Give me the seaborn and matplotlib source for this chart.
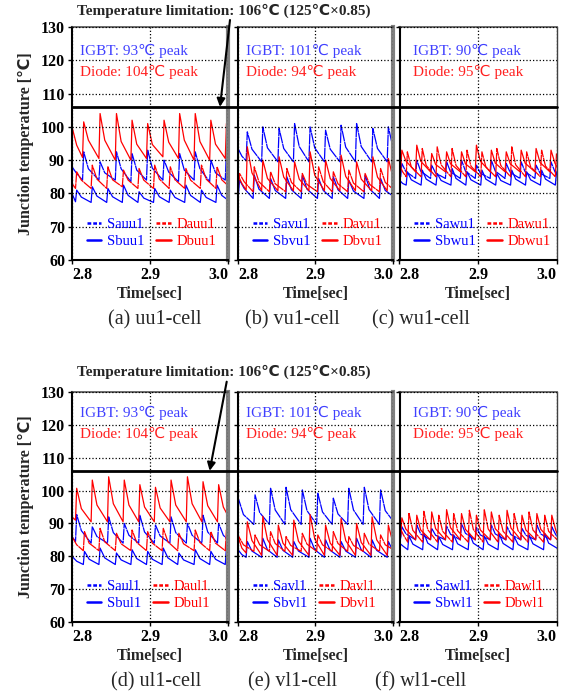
import matplotlib
matplotlib.use("Agg")
import matplotlib.pyplot as plt
import matplotlib.transforms as mtransforms
from matplotlib.lines import Line2D
import seaborn as sns

# ---- values (vertex times in sec, temperatures in degC) ----
# (a) uu1-cell
a_ta = [2.800, 2.806,
        2.8135, 2.815, 2.821, 2.8345, 2.836, 2.842, 2.8555, 2.857, 2.863,
        2.8755, 2.877, 2.883, 2.8955, 2.897, 2.903, 2.9165, 2.918, 2.924,
        2.9365, 2.938, 2.944, 2.9565, 2.958, 2.964, 2.9765, 2.978, 2.984,
        2.9965, 2.998, 3.004]
a_db = [100.0, 94.5,
        90.8, 101.5, 96.0, 90.5, 104.0, 96.0, 90.0, 104.0, 95.6,
        90.0, 102.0, 94.8, 90.5, 101.0, 94.7, 91.0, 102.0, 95.4,
        90.5, 104.0, 96.0, 90.0, 104.0, 95.6, 90.0, 102.0, 94.8,
        90.5, 101.0, 94.7]
a_sa = [88.0, 86.0,
        84.0, 92.5, 87.4, 84.0, 89.5, 86.2, 84.0, 92.5, 87.4,
        83.5, 92.0, 87.0, 84.0, 93.0, 87.6, 84.0, 90.0, 86.4,
        83.5, 92.0, 87.0, 84.0, 92.5, 87.4, 83.5, 90.0, 86.2,
        84.0, 93.0, 87.6]
a_tb = [2.800,
        2.8045, 2.806, 2.812, 2.8245, 2.826, 2.832, 2.8445, 2.846, 2.852,
        2.8645, 2.866, 2.872, 2.8845, 2.886, 2.892, 2.9045, 2.906, 2.912,
        2.9245, 2.926, 2.932, 2.9445, 2.946, 2.952, 2.9645, 2.966, 2.972,
        2.9845, 2.986, 2.992,
        3.004]
a_da = [83.0,
        81.5, 86.5, 84.0, 81.5, 88.5, 84.3, 81.5, 88.0, 84.1,
        82.0, 87.0, 84.0, 81.5, 87.5, 84.0, 81.5, 88.5, 84.3,
        81.5, 88.0, 84.1, 81.5, 87.5, 84.0, 81.5, 88.5, 84.3,
        81.5, 88.0, 84.1,
        81.5]
a_sb = [80.0,
        77.5, 81.0, 78.9, 77.3, 82.0, 79.2, 77.3, 81.5, 79.0,
        77.3, 82.5, 79.4, 77.3, 80.5, 78.6, 77.3, 81.5, 79.0,
        77.3, 81.0, 78.8, 77.3, 82.5, 79.4, 77.3, 81.0, 78.8,
        77.3, 82.5, 79.4,
        77.3]

# (b) vu1-cell
b_ta = [2.800, 2.805,
        2.8105, 2.812, 2.818, 2.8305, 2.832, 2.838, 2.8515, 2.853, 2.859,
        2.8715, 2.873, 2.879, 2.8915, 2.893, 2.899, 2.9115, 2.913, 2.919,
        2.9315, 2.933, 2.939, 2.9515, 2.953, 2.959, 2.9725, 2.974, 2.980,
        2.9925, 2.994, 3.000,
        3.004]
b_sa = [93.5, 91.2,
        89.8, 98.5, 93.3, 89.5, 100.0, 93.7, 89.5, 99.5, 93.5,
        89.5, 101.0, 94.1, 89.5, 100.0, 93.7, 89.5, 99.0, 93.3,
        89.5, 100.5, 93.9, 89.5, 101.0, 94.1, 89.5, 99.5, 93.5,
        89.5, 100.0, 93.7,
        91.0]
b_db = [85.5, 83.0,
        81.0, 94.0, 86.2, 80.8, 90.0, 84.5, 80.8, 91.0, 84.9,
        80.8, 89.5, 84.3, 80.8, 92.5, 85.5, 80.8, 90.0, 84.5,
        80.8, 91.5, 85.1, 80.8, 89.5, 84.3, 80.8, 91.0, 84.9,
        80.8, 90.5, 84.7,
        82.0]
b_tb = [2.800,
        2.8005, 2.802, 2.808, 2.8195, 2.821, 2.827, 2.8405, 2.842, 2.848,
        2.8615, 2.863, 2.869, 2.8815, 2.883, 2.889, 2.9025, 2.904, 2.910,
        2.9215, 2.923, 2.929, 2.9415, 2.943, 2.949, 2.9625, 2.964, 2.970,
        2.9825, 2.984, 2.990,
        3.004]
b_sb = [80.0,
        79.5, 84.0, 81.5, 78.5, 85.5, 81.3, 78.5, 84.5, 80.9,
        78.5, 85.0, 81.1, 78.5, 85.5, 81.3, 78.5, 84.5, 80.9,
        78.5, 85.0, 81.1, 78.5, 84.0, 80.7, 78.5, 85.5, 81.3,
        78.5, 84.5, 80.9,
        78.5]
b_da = [84.0,
        82.0, 86.0, 83.5, 80.5, 88.0, 83.5, 80.5, 86.5, 82.9,
        80.5, 87.5, 83.3, 80.5, 86.0, 82.7, 80.5, 88.0, 83.5,
        80.5, 86.5, 82.9, 80.5, 87.0, 83.1, 80.5, 86.0, 82.7,
        80.5, 87.5, 83.3,
        80.5]

# (c) wu1-cell
c_ta = [2.800,
        2.8015, 2.803, 2.808, 2.8205, 2.822, 2.827, 2.8395, 2.841, 2.846,
        2.8585, 2.860, 2.865, 2.8775, 2.879, 2.884, 2.8965, 2.898, 2.903,
        2.9155, 2.917, 2.922, 2.9345, 2.936, 2.941, 2.9535, 2.955, 2.960,
        2.9725, 2.974, 2.979, 2.9915, 2.993, 2.998,
        3.004]
c_db = [88.0,
        87.0, 93.0, 89.8, 86.5, 94.5, 89.7, 86.5, 92.0, 88.7,
        86.5, 92.5, 88.9, 86.5, 92.5, 88.9, 86.5, 94.5, 89.7,
        86.5, 93.0, 89.1, 86.5, 92.5, 88.9, 86.5, 93.0, 89.1,
        86.5, 93.5, 89.3, 86.5, 93.0, 89.1,
        86.5]
c_sa = [86.0,
        85.0, 89.0, 86.6, 84.5, 90.0, 86.7, 84.5, 88.5, 86.1,
        84.5, 89.5, 86.5, 84.5, 90.0, 86.7, 84.5, 88.5, 86.1,
        84.5, 90.0, 86.7, 84.5, 89.0, 86.3, 84.5, 89.5, 86.5,
        84.5, 88.5, 86.1, 84.5, 89.5, 86.5,
        84.5]
c_tb = [2.800, 2.804,
        2.8085, 2.810, 2.815, 2.8275, 2.829, 2.834, 2.8465, 2.848, 2.853,
        2.8655, 2.867, 2.872, 2.8845, 2.886, 2.891, 2.9035, 2.905, 2.910,
        2.9225, 2.924, 2.929, 2.9415, 2.943, 2.948, 2.9605, 2.962, 2.967,
        2.9795, 2.981, 2.986,
        2.9985, 3.000]
c_da = [88.5, 86.5,
        85.0, 92.5, 88.0, 85.0, 93.5, 88.4, 85.0, 94.0, 88.6,
        85.0, 93.5, 88.4, 85.0, 93.0, 88.2, 85.0, 92.5, 88.0,
        85.0, 93.5, 88.4, 85.0, 94.0, 88.6, 85.0, 92.5, 88.0,
        85.0, 93.0, 88.2,
        85.0, 92.0]
c_sb = [84.0, 83.0,
        82.5, 86.5, 84.1, 82.5, 87.0, 84.3, 82.5, 86.0, 83.9,
        82.5, 87.5, 84.5, 82.5, 86.5, 84.1, 82.5, 87.0, 84.3,
        82.5, 86.0, 83.9, 82.5, 87.0, 84.3, 82.5, 86.5, 84.1,
        82.5, 87.0, 84.3,
        82.5, 86.5]

# (d) ul1-cell
d_ta = [2.800,
        2.8045, 2.806, 2.812, 2.8245, 2.826, 2.832, 2.8455, 2.847, 2.853,
        2.8655, 2.867, 2.873, 2.8855, 2.887, 2.893, 2.9055, 2.907, 2.913,
        2.9255, 2.927, 2.933, 2.9465, 2.948, 2.954, 2.9665, 2.968, 2.974,
        2.9865, 2.988, 2.994,
        3.004]
d_db = [92.0,
        91.0, 100.7, 94.5, 90.5, 103.2, 95.6, 90.5, 104.2, 96.0,
        90.5, 103.2, 95.6, 90.5, 101.8, 95.0, 90.5, 101.0, 94.7,
        90.5, 103.2, 95.6, 90.5, 104.2, 96.0, 90.5, 102.7, 95.4,
        90.5, 101.8, 95.0,
        90.5]
d_sa = [86.0,
        84.5, 92.7, 87.8, 84.0, 89.0, 86.0, 84.0, 92.0, 87.2,
        84.0, 90.0, 86.4, 84.0, 92.5, 87.4, 84.0, 89.5, 86.2,
        84.0, 92.0, 87.2, 84.0, 90.0, 86.4, 84.0, 92.5, 87.4,
        84.0, 90.0, 86.4,
        84.0]
d_tb = [2.800, 2.806,
        2.8145, 2.816, 2.822, 2.8345, 2.836, 2.842, 2.8555, 2.857, 2.863,
        2.8755, 2.877, 2.883, 2.8955, 2.897, 2.903, 2.9155, 2.917, 2.923,
        2.9355, 2.937, 2.943, 2.9565, 2.958, 2.964, 2.9765, 2.978, 2.984,
        2.9965, 2.998, 3.004]
d_da = [86.0, 83.5,
        81.7, 87.5, 84.0, 81.7, 88.5, 84.4, 81.7, 87.0, 83.8,
        81.7, 88.0, 84.2, 81.7, 87.5, 84.0, 81.7, 88.5, 84.4,
        81.7, 87.0, 83.8, 81.7, 88.0, 84.2, 81.7, 87.5, 84.0,
        81.7, 88.0, 84.2]
d_sb = [80.0, 78.5,
        77.5, 81.5, 79.1, 77.5, 82.5, 79.5, 77.5, 81.0, 78.9,
        77.5, 82.0, 79.3, 77.5, 81.5, 79.1, 77.5, 82.5, 79.5,
        77.5, 81.0, 78.9, 77.5, 82.0, 79.3, 77.5, 81.5, 79.1,
        77.5, 82.5, 79.5]

# (e) vl1-cell
e_ta = [2.800, 2.801, 2.807,
        2.8205, 2.822, 2.828, 2.8405, 2.842, 2.848, 2.8605, 2.862, 2.868,
        2.8815, 2.883, 2.889, 2.9015, 2.903, 2.909, 2.9215, 2.923, 2.929,
        2.9415, 2.943, 2.949, 2.9615, 2.963, 2.969, 2.9825, 2.984, 2.990,
        3.004]
e_sa = [96.0, 97.2, 92.7,
        89.7, 98.7, 93.3, 89.7, 100.7, 94.1, 89.7, 101.0, 94.2,
        89.7, 100.2, 93.9, 89.7, 99.2, 93.5, 89.7, 97.7, 92.9,
        89.7, 100.7, 94.1, 89.7, 101.0, 94.2, 89.7, 100.2, 93.9,
        89.5]
e_da = [84.0, 86.0, 83.5,
        81.5, 86.5, 83.5, 81.5, 87.5, 83.9, 81.5, 86.0, 83.3,
        81.5, 87.0, 83.7, 81.5, 86.5, 83.5, 81.5, 87.5, 83.9,
        81.5, 86.0, 83.3, 81.5, 87.0, 83.7, 81.5, 86.5, 83.5,
        81.5]
e_tb = [2.800, 2.805,
        2.8105, 2.812, 2.818, 2.8305, 2.832, 2.838, 2.8505, 2.852, 2.858,
        2.8705, 2.872, 2.878, 2.8915, 2.893, 2.899, 2.9115, 2.913, 2.919,
        2.9315, 2.933, 2.939, 2.9515, 2.953, 2.959, 2.9715, 2.973, 2.979,
        2.9925, 2.994, 3.000]
e_db = [86.0, 82.5,
        81.0, 90.5, 84.8, 80.3, 92.2, 85.1, 80.3, 89.5, 84.0,
        80.3, 91.0, 84.6, 80.3, 92.7, 85.3, 80.3, 89.5, 84.0,
        80.3, 91.5, 84.8, 80.3, 90.0, 84.2, 80.3, 92.0, 85.0,
        80.3, 89.5, 84.0]
e_sb = [82.0, 80.5,
        79.7, 84.5, 81.6, 79.7, 85.5, 82.0, 79.7, 85.0, 81.8,
        79.7, 84.5, 81.6, 79.7, 85.5, 82.0, 79.7, 85.0, 81.8,
        79.7, 84.5, 81.6, 79.7, 85.5, 82.0, 79.7, 85.0, 81.8,
        79.7, 84.5, 81.6]

# (f) wl1-cell
f_ta = [2.800,
        2.8015, 2.803, 2.808, 2.8205, 2.822, 2.827, 2.8395, 2.841, 2.846,
        2.8585, 2.860, 2.865, 2.8775, 2.879, 2.884, 2.8965, 2.898, 2.903,
        2.9155, 2.917, 2.922, 2.9355, 2.937, 2.942, 2.9545, 2.956, 2.961,
        2.9735, 2.975, 2.980, 2.9925, 2.994, 2.999,
        3.004]
f_db = [87.0,
        86.0, 91.7, 88.3, 85.0, 92.5, 88.0, 85.0, 93.5, 88.4,
        85.0, 94.2, 88.7, 85.0, 93.0, 88.2, 85.0, 92.5, 88.0,
        85.0, 93.5, 88.4, 85.0, 94.0, 88.6, 85.0, 92.5, 88.0,
        85.0, 93.0, 88.2, 85.0, 92.5, 88.0,
        85.0]
f_sa = [86.5,
        85.5, 89.0, 86.9, 85.0, 89.5, 86.8, 85.0, 88.5, 86.4,
        85.0, 89.2, 86.7, 85.0, 90.0, 87.0, 85.0, 88.8, 86.5,
        85.0, 89.5, 86.8, 85.0, 89.0, 86.6, 85.0, 88.5, 86.4,
        85.0, 89.5, 86.8, 85.0, 89.0, 86.6,
        85.0]
f_tb = [2.800, 2.805,
        2.8105, 2.812, 2.817, 2.8295, 2.831, 2.836, 2.8485, 2.850, 2.855,
        2.8675, 2.869, 2.874, 2.8875, 2.889, 2.894, 2.9065, 2.908, 2.913,
        2.9255, 2.927, 2.932, 2.9445, 2.946, 2.951, 2.9635, 2.965, 2.970,
        2.9835, 2.985, 2.990,
        3.004]
f_da = [89.0, 86.5,
        84.3, 93.2, 87.9, 84.3, 93.7, 88.1, 84.3, 92.5, 87.6,
        84.3, 93.0, 87.8, 84.3, 94.0, 88.2, 84.3, 94.2, 88.3,
        84.3, 92.5, 87.6, 84.3, 93.0, 87.8, 84.3, 93.5, 88.0,
        84.3, 92.5, 87.6,
        84.3]
f_sb = [84.0, 83.0,
        82.0, 86.2, 83.7, 82.0, 87.0, 84.0, 82.0, 86.0, 83.6,
        82.0, 86.5, 83.8, 82.0, 87.0, 84.0, 82.0, 86.2, 83.7,
        82.0, 86.8, 83.9, 82.0, 86.0, 83.6, 82.0, 86.5, 83.8,
        82.0, 87.0, 84.0,
        82.0]

cells = ["uu1", "vu1", "wu1", "ul1", "vl1", "wl1"]
captions = ["(a) uu1-cell", "(b) vu1-cell", "(c) wu1-cell",
            "(d) ul1-cell", "(e) vl1-cell", "(f) wl1-cell"]
igbt_peaks = [93, 101, 90, 93, 101, 90]
diode_peaks = [104, 94, 95, 104, 94, 95]
x_ticks = [2.8, 2.9, 3.0]
y_ticks = [60, 70, 80, 90, 100, 110, 120, 130]
limit_temp = 106

# Sa, Sb, Da, Db for every cell: (times, values)
series = [
    [(a_ta, a_sa), (a_tb, a_sb), (a_tb, a_da), (a_ta, a_db)],
    [(b_ta, b_sa), (b_tb, b_sb), (b_tb, b_da), (b_ta, b_db)],
    [(c_ta, c_sa), (c_tb, c_sb), (c_tb, c_da), (c_ta, c_db)],
    [(d_ta, d_sa), (d_tb, d_sb), (d_tb, d_da), (d_ta, d_db)],
    [(e_ta, e_sa), (e_tb, e_sb), (e_ta, e_da), (e_tb, e_db)],
    [(f_ta, f_sa), (f_tb, f_sb), (f_tb, f_da), (f_ta, f_db)],
]

BLUE = "#0000ff"
RED = "#ff0000"
FINE_DOT = (0, (9, 0.45))    # dense dotted trace, reads almost solid at this size
LEG_DOT = (0, (1.5, 0.8))
styles = [("Sa", BLUE, FINE_DOT), ("Sb", BLUE, "-"), ("Da", RED, FINE_DOT), ("Db", RED, "-")]

sns.set_style("ticks")
plt.rcParams["font.family"] = ["Liberation Serif", "DejaVu Sans"]

W, H = 570, 696
fig = plt.figure(figsize=(W / 100, H / 100), dpi=100)

col_x = [(72, 156), (238, 155), (399.5, 157)]
row_y = [(27, 260), (392, 622)]
cap_x = [[155, 292, 421], [156, 293, 421]]
cap_y = [320, 682]
txt_y = [(122.9, 116.6), (123.6, 117.2)]
txt_dx = [0.0103, 0.0103, 0.0172]

axes = []
for i, cell in enumerate(cells):
    row, col = divmod(i, 3)
    x0, w = col_x[col]
    ytop, ybot = row_y[row]
    ax = fig.add_axes([x0 / W, 1 - ybot / H, w / W, (ybot - ytop) / H])
    axes.append(ax)

    for (prefix, color, ls), (t, v) in zip(styles, series[i]):
        sns.lineplot(x=t, y=v, ax=ax, color=color, linewidth=0.9, linestyle=ls,
                     label=prefix + cell, estimator=None, sort=False)

    ax.set_xlim(2.8, 3.0)
    ax.set_ylim(60, 130)
    ax.set_xticks(x_ticks)
    ax.set_xticklabels([f"{x:.1f}" for x in x_ticks], fontweight="bold", fontsize=11.5)
    xl = ax.get_xticklabels()
    xl[0].set_ha("left")
    xl[-1].set_ha("right")
    ax.set_yticks(y_ticks)
    if col == 0:
        ax.set_yticklabels([str(y) for y in y_ticks], fontweight="bold", fontsize=11.5)
        ax.set_ylabel("Junction temperature [℃]", fontweight="bold", fontsize=11.5, labelpad=5)
    else:
        ax.set_yticklabels([])
        ax.set_ylabel("")
    ax.set_xlabel("Time[sec]", fontweight="bold", fontsize=11.5, labelpad=2)
    ax.tick_params(direction="out", length=3, width=1, pad=2, colors="black")
    ax.grid(True, linestyle=":", color="black", linewidth=0.9)
    ax.set_axisbelow(False)

    ax.spines["left"].set(color="black", linewidth=1.5)
    ax.spines["bottom"].set(color="black", linewidth=1.5)
    ax.spines["top"].set(color="#505050", linewidth=1.2)
    if col < 2:
        ax.spines["right"].set(color="#808080", linewidth=3)
    else:
        ax.spines["right"].set(color="#404040", linewidth=1)

    tx = 2.8 + txt_dx[col]
    ax.text(tx, txt_y[row][0], f"IGBT: {igbt_peaks[i]}℃ peak", color="#4040ff",
            fontsize=11, va="center", ha="left")
    ax.text(tx, txt_y[row][1], f"Diode: {diode_peaks[i]}℃ peak", color="#ff2020",
            fontsize=11, va="center", ha="left")

    leg = ax.legend(loc="lower left", bbox_to_anchor=(0.02, 0.0), ncol=2, frameon=False,
                    fontsize=10.5, handlelength=1.0, handletextpad=0.4, columnspacing=0.8,
                    labelspacing=0.25, borderpad=0.3, labelcolor="linecolor")
    for k, h in enumerate(leg.legend_handles):
        h.set_linewidth(1.8)
        if k in (0, 2):
            h.set_linestyle(LEG_DOT)

    fig.text(cap_x[row][col] / W, 1 - cap_y[row] / H, captions[i], fontsize=14.5,
             ha="center", va="center")

# temperature limit line across each row, title and arrow
for row, (ax, tip_x, tail) in enumerate([(axes[0], 2.9897, (230, 20)),
                                         (axes[3], 2.9765, (226.7, 381.7))]):
    trans = mtransforms.blended_transform_factory(fig.transFigure, ax.transData)
    fig.add_artist(Line2D([72 / W, 556.5 / W], [limit_temp, limit_temp], transform=trans,
                          color="black", linewidth=2))
    title_y = [11, 372][row]
    fig.text(223.5 / W, 1 - title_y / H, "Temperature limitation: 106℃ (125℃×0.85)",
             fontsize=11, fontweight="bold", ha="center", va="center")
    ax.annotate("", xy=(tip_x, limit_temp), xycoords="data",
                xytext=(tail[0] / W, 1 - tail[1] / H), textcoords="figure fraction",
                arrowprops=dict(arrowstyle="-|>", color="black", lw=1.5,
                                mutation_scale=12, shrinkA=0, shrinkB=0))

plt.savefig("out.png", dpi=100)
